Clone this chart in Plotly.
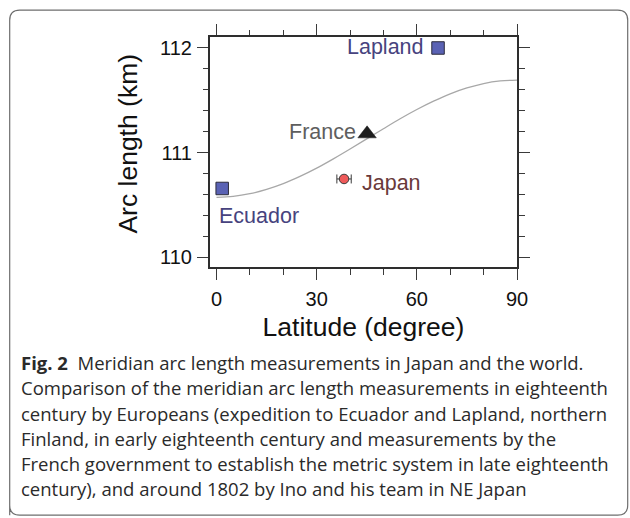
import plotly.graph_objects as go

# Meridian arc length of one degree of latitude (km), reference ellipsoid curve
curve_lat = [0, 5, 10, 15, 20, 25, 30, 35, 40, 45, 50, 55, 60, 65, 70, 75, 80, 85, 90]
curve_len = [110.574, 110.583, 110.608, 110.649, 110.704, 110.773, 110.852, 110.941,
             111.035, 111.132, 111.229, 111.324, 111.412, 111.492, 111.562, 111.618,
             111.660, 111.685, 111.694]

# Historical measurements
sq_names = ["Ecuador", "Lapland"]
sq_lat = [1.7, 66.35]
sq_len = [110.658, 112.0]

france_lat = [45.1]
france_len = [111.18]

japan_lat = [38.2]
japan_len = [110.749]
japan_lat_err = [2.15]

x_ticks = [0, 30, 60, 90]
y_ticks = [110, 111, 112]

caption_lines = [
    "<b>Fig. 2</b>  Meridian arc length measurements in Japan and the world.",
    "Comparison of the meridian arc length measurements in eighteenth",
    "century by Europeans (expedition to Ecuador and Lapland, northern",
    "Finland, in early eighteenth century and measurements by the",
    "French government to establish the metric system in late eighteenth",
    "century), and around 1802 by Ino and his team in NE Japan",
]

W, H = 630, 518
L, R, T, B = 210.3, 517.3, 37.3, 267.3
PW, PH = R - L, B - T


def px(xp):
    return (xp - L) / PW


def py(yp):
    return (B - yp) / PH


FONT = "Liberation Sans, Arial, sans-serif"
CAP_FONT = "Open Sans, Noto Sans, sans-serif"

fig = go.Figure()

fig.add_trace(go.Scatter(
    x=curve_lat, y=curve_len, mode="lines",
    line=dict(color="#a8a8a8", width=1.3, shape="spline"),
    hoverinfo="skip", showlegend=False,
))

fig.add_trace(go.Scatter(
    x=sq_lat, y=sq_len, mode="markers",
    marker=dict(symbol="square", size=12.5, color="#5a62b4",
                line=dict(color="#2c2c3c", width=1)),
    showlegend=False,
))

fig.add_trace(go.Scatter(
    x=france_lat, y=france_len, mode="markers",
    marker=dict(symbol="triangle-up", size=16, color="#1e1e1e",
                line=dict(color="#1e1e1e", width=0.5)),
    showlegend=False,
))

fig.add_trace(go.Scatter(
    x=japan_lat, y=japan_len, mode="markers",
    marker=dict(symbol="circle", size=9.5, color="#ef5a5a",
                line=dict(color="#3a3a3a", width=1)),
    error_x=dict(type="data", array=japan_lat_err, color="#3a3a3a",
                 thickness=1, width=4.5),
    showlegend=False,
))

# Point labels
label_font = dict(family=FONT, size=21.5)
fig.add_annotation(x=sq_lat[0], y=sq_len[0], text=sq_names[0], showarrow=False,
                   xanchor="left", yanchor="middle", xshift=-5.5, yshift=-27.5,
                   font=dict(label_font, color="#47437e"))
fig.add_annotation(x=sq_lat[1], y=sq_len[1], text=sq_names[1], showarrow=False,
                   xanchor="right", yanchor="middle", xshift=-12, yshift=1,
                   font=dict(label_font, color="#47437e"))
fig.add_annotation(x=france_lat[0], y=france_len[0], text="France", showarrow=False,
                   xanchor="right", yanchor="middle", xshift=-9, yshift=2,
                   font=dict(label_font, color="#5e5e5e"))
fig.add_annotation(x=japan_lat[0], y=japan_len[0], text="Japan", showarrow=False,
                   xanchor="left", yanchor="middle", xshift=16, yshift=-4,
                   font=dict(label_font, color="#6a3a3a"))

# Y axis title
fig.add_annotation(xref="paper", yref="paper", x=px(128), y=py(144.2),
                   text="Arc length (km)", textangle=-90, showarrow=False,
                   xanchor="center", yanchor="middle",
                   font=dict(family=FONT, size=26.5, color="#111111"))

# Caption
y0, dy = 363.0, 25.2
for i, line in enumerate(caption_lines):
    fig.add_annotation(xref="paper", yref="paper", x=px(19), y=py(y0 + i * dy),
                       text=line, showarrow=False, xanchor="left", yanchor="middle",
                       font=dict(family=CAP_FONT, size=18.5, color="#2a2a2a"))

# Rounded outer frame
x0b, x1b, y0b, y1b, r = 10, 628, 10.5, 515.5, 10
path = (f"M {px(x0b)} {py(y1b)} "
        f"L {px(x0b)} {py(y0b + r)} "
        f"Q {px(x0b)} {py(y0b)} {px(x0b + r)} {py(y0b)} "
        f"L {px(x1b - r)} {py(y0b)} "
        f"Q {px(x1b)} {py(y0b)} {px(x1b)} {py(y0b + r)} "
        f"L {px(x1b)} {py(y1b - r)} "
        f"Q {px(x1b)} {py(y1b)} {px(x1b - r)} {py(y1b)} "
        f"L {px(x0b + r)} {py(y1b)} "
        f"Q {px(x0b)} {py(y1b)} {px(x0b)} {py(y1b - r)} Z")
fig.add_shape(type="path", path=path, xref="paper", yref="paper",
              line=dict(color="#6e6e6e", width=1.2), layer="below")

axis_common = dict(
    showline=True, linecolor="#2e2e2e", linewidth=2, mirror="ticks",
    ticks="outside", ticklen=11, tickwidth=1.3, tickcolor="#3a3a3a",
    showgrid=False, zeroline=False,
    tickfont=dict(family=FONT, size=20, color="#111111"),
)

fig.update_xaxes(
    range=[-1.95, 90], tickmode="array", tickvals=x_ticks,
    minor=dict(dtick=10, tick0=0, ticks="outside", ticklen=5.5,
               tickwidth=1.2, tickcolor="#3a3a3a", showgrid=False),
    title=dict(text="Latitude (degree)", standoff=8,
               font=dict(family=FONT, size=26.5, color="#111111")),
    ticklabelstandoff=2,
    **axis_common,
)
fig.update_yaxes(
    range=[109.908, 112.105], tickmode="array", tickvals=y_ticks,
    minor=dict(dtick=0.2, tick0=110, ticks="outside", ticklen=5.5,
               tickwidth=1.2, tickcolor="#3a3a3a", showgrid=False),
    ticklabelstandoff=1,
    **axis_common,
)

fig.update_layout(
    width=W, height=H,
    margin=dict(l=L, r=W - R, t=T, b=H - B, autoexpand=False),
    paper_bgcolor="white", plot_bgcolor="white",
    showlegend=False,
)

fig.write_html("out.html")
